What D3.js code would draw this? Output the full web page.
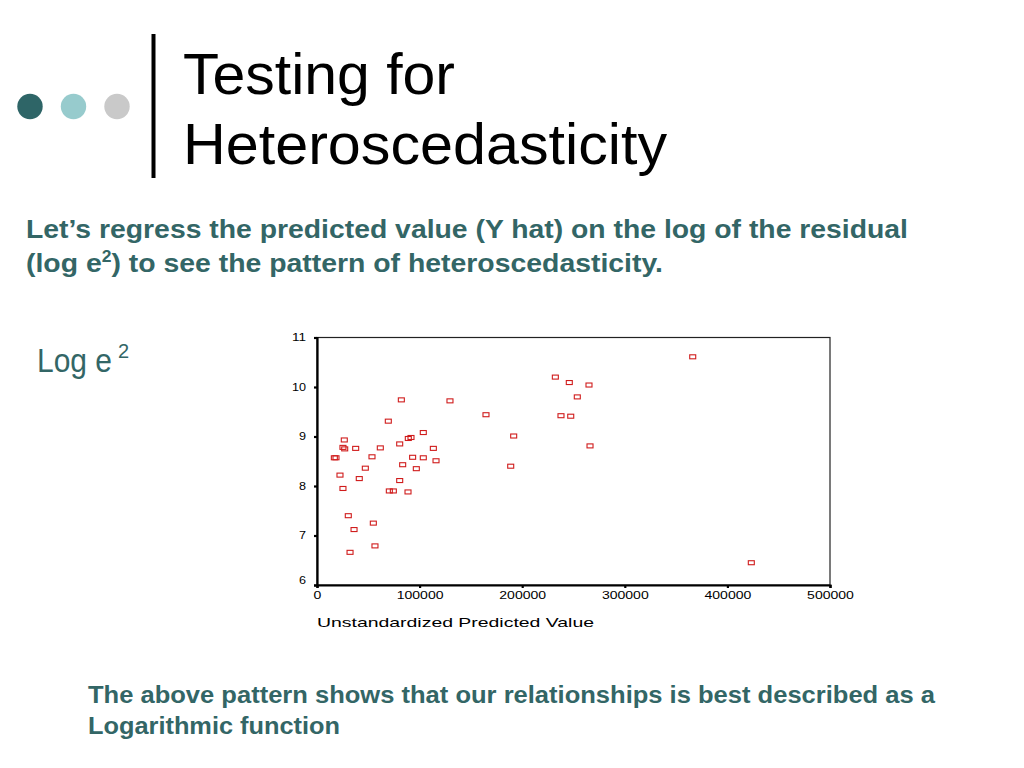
<!DOCTYPE html>
<html>
<head>
<meta charset="utf-8">
<script src="https://cdn.jsdelivr.net/npm/d3@7"></script>
<style>
  html, body { margin: 0; padding: 0; background: #ffffff; }
  svg { display: block; }
  text { font-family: "Liberation Sans", Arial, Helvetica, sans-serif; }
</style>
</head>
<body>
<svg id="chart" width="1024" height="768"></svg>
<script>
// ---- data ----
const predicted = [
  232300, 245900, 253700, 82200, 129600, 69500, 164700, 237800, 247300, 26600,
  191700, 103600, 89000, 91600, 25300, 27000, 37700, 61700, 80600, 113400,
  16900, 18500, 53600, 93200, 103600, 116000, 47100, 83500, 96800, 188800,
  22400, 41200, 80600, 25300, 70500, 74400, 88700, 30500, 54900, 36100,
  56500, 32200, 366200, 265100, 266100, 423300
];
const logResidual = [
  10.20, 10.09, 9.80, 9.74, 9.72, 9.31, 9.44, 9.42, 9.41, 8.93,
  9.01, 9.08, 8.96, 8.98, 8.78, 8.75, 8.76, 8.77, 8.85, 8.76,
  8.57, 8.57, 8.59, 8.58, 8.57, 8.51, 8.36, 8.43, 8.35, 8.40,
  8.22, 8.15, 8.11, 7.95, 7.90, 7.90, 7.88, 7.40, 7.25, 7.12,
  6.79, 6.66, 10.61, 10.04, 8.81, 6.45
];
const xTicks = [0, 100000, 200000, 300000, 400000, 500000];
const yTicks = [6, 7, 8, 9, 10, 11];
const titleLines = ["Testing for", "Heteroscedasticity"];
const xLabel = "Unstandardized Predicted Value";

(function () {
const teal = "#336666";
const svg = d3.select("#chart");

// ---- slide decoration ----
const dotColors = ["#2e6567", "#97cbcd", "#c9c9c9"];
svg.selectAll("circle.deco").data(dotColors).join("circle")
  .attr("class", "deco")
  .attr("cx", (d, i) => 30 + i * 43.5)
  .attr("cy", 106.5)
  .attr("r", 12.7)
  .attr("fill", d => d);
svg.append("line").attr("x1", 153.5).attr("x2", 153.5).attr("y1", 34).attr("y2", 178)
  .attr("stroke", "#000").attr("stroke-width", 4);

// title
const titleLen = [272, 484];
svg.selectAll("text.title").data(titleLines).join("text")
  .attr("class", "title")
  .attr("x", 183)
  .attr("y", (d, i) => 94 + i * 69.5)
  .attr("font-size", 58)
  .attr("fill", "#000")
  .attr("textLength", (d, i) => titleLen[i])
  .attr("lengthAdjust", "spacingAndGlyphs")
  .text(d => d);

// subtitle
svg.append("text").attr("x", 26).attr("y", 238)
  .attr("font-size", 26).attr("font-weight", "bold").attr("fill", teal)
  .attr("textLength", 882).attr("lengthAdjust", "spacingAndGlyphs")
  .text("Let\u2019s regress the predicted value (Y hat) on the log of the residual");
const sub2 = svg.append("text").attr("x", 26).attr("y", 272)
  .attr("font-size", 26).attr("font-weight", "bold").attr("fill", teal)
  .attr("textLength", 637).attr("lengthAdjust", "spacingAndGlyphs");
sub2.append("tspan").text("(log e");
sub2.append("tspan").attr("font-size", 16).attr("dy", -10).text("2");
sub2.append("tspan").attr("dy", 10).text(") to see the pattern of heteroscedasticity.");

// y axis title
svg.append("text").attr("x", 37).attr("y", 371.5)
  .attr("font-size", 33).attr("fill", teal)
  .attr("textLength", 75).attr("lengthAdjust", "spacingAndGlyphs")
  .text("Log e");
svg.append("text").attr("x", 118).attr("y", 358)
  .attr("font-size", 20).attr("fill", teal)
  .text("2");

// bottom text
const bottomLines = ["The above pattern shows that our relationships is best described as a", "Logarithmic function"];
const bottomLen = [847, 252];
svg.selectAll("text.bottom").data(bottomLines).join("text")
  .attr("class", "bottom")
  .attr("x", 88)
  .attr("y", (d, i) => 703 + i * 31)
  .attr("font-size", 24)
  .attr("font-weight", "bold")
  .attr("fill", teal)
  .attr("textLength", (d, i) => bottomLen[i])
  .attr("lengthAdjust", "spacingAndGlyphs")
  .text(d => d);

// ---- scatter plot ----
const pL = 317, pR = 830, pT = 337.5, pB = 585;
const x = d3.scaleLinear().domain([0, 500000]).range([pL, pR]);
const y = d3.scaleLinear().domain([6, 11]).range([pB, pT]);

// frame (top + right)
svg.append("rect").attr("x", pL).attr("y", pT)
  .attr("width", pR - pL).attr("height", pB - pT)
  .attr("fill", "none").attr("stroke", "#222").attr("stroke-width", 1.2);

const xAxis = svg.append("g").attr("transform", `translate(0,${pB})`)
  .call(d3.axisBottom(x).tickValues(xTicks).tickFormat(d3.format("d")).tickSize(3).tickPadding(2));
const yAxis = svg.append("g").attr("transform", `translate(${pL},0)`)
  .call(d3.axisLeft(y).tickValues(yTicks).tickFormat(d3.format("d")).tickSize(3).tickPadding(8));

[xAxis, yAxis].forEach(g => {
  g.select(".domain").attr("stroke", "#000").attr("stroke-width", 2.2);
  g.selectAll(".tick line").attr("stroke", "#000").attr("stroke-width", 2.2);
  g.selectAll(".tick text").attr("fill", "#000").attr("font-size", 10)
    .attr("font-family", "'Liberation Sans', Arial, sans-serif")
    .attr("lengthAdjust", "spacingAndGlyphs");
});
xAxis.selectAll(".tick text").attr("dy", "0.9em")
  .attr("textLength", d => String(d).length * 7.8);
yAxis.selectAll(".tick text")
  .attr("textLength", d => String(d).length * 7)
  .attr("dy", d => d === 6 ? "-0.2em" : "0.32em");

svg.append("text").attr("x", pL).attr("y", 626.5)
  .attr("font-size", 13).attr("fill", "#000")
  .attr("textLength", 277).attr("lengthAdjust", "spacingAndGlyphs")
  .text(xLabel);

// markers
const pts = predicted.map((p, i) => ({ p, r: logResidual[i] }));
svg.append("g").selectAll("rect").data(pts).join("rect")
  .attr("x", d => x(d.p) - 3)
  .attr("y", d => y(d.r) - 2)
  .attr("width", 6)
  .attr("height", 4)
  .attr("fill", "none")
  .attr("stroke", "#d01c1c")
  .attr("stroke-width", 1.1);
})();
</script>
</body>
</html>
